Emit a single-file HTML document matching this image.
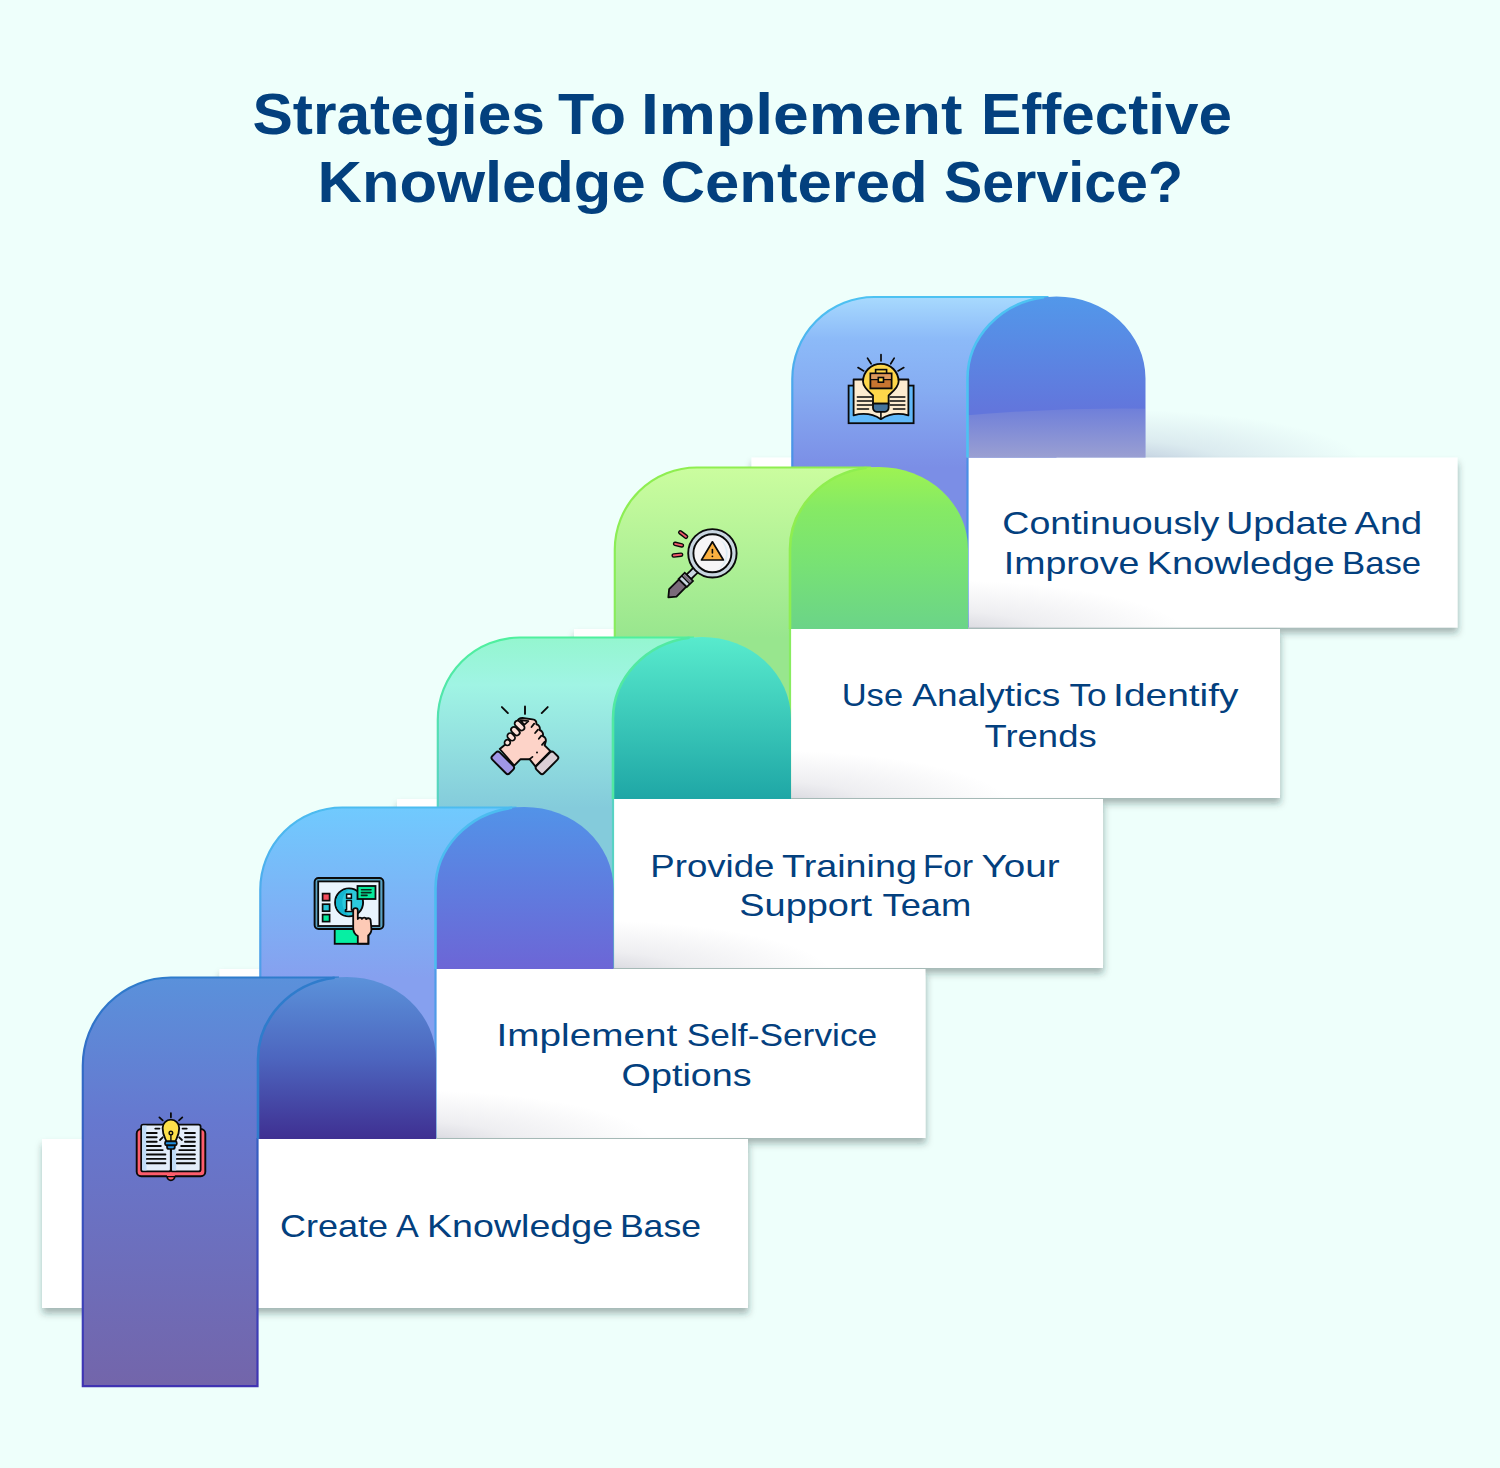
<!DOCTYPE html>
<html><head><meta charset="utf-8"><style>
html,body{margin:0;padding:0;}
body{width:1500px;height:1468px;background:#eefffb;overflow:hidden;position:relative;font-family:"Liberation Sans",sans-serif;}
svg{position:absolute;left:0;top:0;}
.ct{font-family:"Liberation Sans",sans-serif;font-size:32px;fill:#03407e;}
.tt{font-family:"Liberation Sans",sans-serif;font-size:57px;font-weight:bold;fill:#03407e;}
</style></head><body>
<svg width="1500" height="1468" viewBox="0 0 1500 1468">
<defs><linearGradient id="gc4" gradientUnits="userSpaceOnUse" x1="0" y1="296.5" x2="0" y2="467.5"><stop offset="0" stop-color="#a8dafe"/><stop offset="0.25" stop-color="#8cbaf8"/><stop offset="0.55" stop-color="#86acf2"/><stop offset="1" stop-color="#7b8ee6"/></linearGradient><linearGradient id="ga4" gradientUnits="userSpaceOnUse" x1="0" y1="296.5" x2="0" y2="457.5"><stop offset="0" stop-color="#5298ea"/><stop offset="0.7" stop-color="#6276dc"/><stop offset="1" stop-color="#6276dc"/></linearGradient><radialGradient id="sh4" gradientUnits="userSpaceOnUse" cx="1115.5" cy="465.5" r="1" gradientTransform="translate(1115.5,465.5) scale(250,56) translate(-1115.5,-465.5)"><stop offset="0" stop-color="#4a5096" stop-opacity="0.32"/><stop offset="0.45" stop-color="#4a5096" stop-opacity="0.115"/><stop offset="1" stop-color="#4a5096" stop-opacity="0"/></radialGradient><linearGradient id="bd4" gradientUnits="userSpaceOnUse" x1="0" y1="296.5" x2="0" y2="467.5"><stop offset="0" stop-color="#4dc2f2"/><stop offset="1" stop-color="#4a8ee6"/></linearGradient><linearGradient id="ov" gradientUnits="userSpaceOnUse" x1="0" y1="406.5" x2="0" y2="457.5"><stop offset="0" stop-color="#d2c8c8" stop-opacity="0.1"/><stop offset="1" stop-color="#d2c8c8" stop-opacity="0.5"/></linearGradient><linearGradient id="gc3" gradientUnits="userSpaceOnUse" x1="0" y1="467" x2="0" y2="638"><stop offset="0" stop-color="#cbfd9f"/><stop offset="1" stop-color="#98e68e"/></linearGradient><linearGradient id="ga3" gradientUnits="userSpaceOnUse" x1="0" y1="467" x2="0" y2="628"><stop offset="0" stop-color="#9ef352"/><stop offset="0.25" stop-color="#86ea64"/><stop offset="0.6" stop-color="#78e274"/><stop offset="1" stop-color="#6bd488"/></linearGradient><radialGradient id="sh3" gradientUnits="userSpaceOnUse" cx="938" cy="636" r="1" gradientTransform="translate(938,636) scale(250,56) translate(-938,-636)"><stop offset="0" stop-color="#50506e" stop-opacity="0.27"/><stop offset="0.45" stop-color="#50506e" stop-opacity="0.097"/><stop offset="1" stop-color="#50506e" stop-opacity="0"/></radialGradient><linearGradient id="bd3" gradientUnits="userSpaceOnUse" x1="0" y1="467" x2="0" y2="638"><stop offset="0" stop-color="#8fee50"/><stop offset="1" stop-color="#88ec60"/></linearGradient><linearGradient id="gc2" gradientUnits="userSpaceOnUse" x1="0" y1="637" x2="0" y2="808"><stop offset="0" stop-color="#94f6cf"/><stop offset="0.28" stop-color="#a0f4e4"/><stop offset="1" stop-color="#84cbdb"/></linearGradient><linearGradient id="ga2" gradientUnits="userSpaceOnUse" x1="0" y1="637" x2="0" y2="798"><stop offset="0" stop-color="#58ebcd"/><stop offset="1" stop-color="#1fa7a6"/></linearGradient><radialGradient id="sh2" gradientUnits="userSpaceOnUse" cx="761" cy="806" r="1" gradientTransform="translate(761,806) scale(250,56) translate(-761,-806)"><stop offset="0" stop-color="#50506e" stop-opacity="0.27"/><stop offset="0.45" stop-color="#50506e" stop-opacity="0.097"/><stop offset="1" stop-color="#50506e" stop-opacity="0"/></radialGradient><linearGradient id="bd2" gradientUnits="userSpaceOnUse" x1="0" y1="637" x2="0" y2="808"><stop offset="0" stop-color="#4ff09e"/><stop offset="1" stop-color="#58d2c4"/></linearGradient><linearGradient id="gc1" gradientUnits="userSpaceOnUse" x1="0" y1="807" x2="0" y2="978"><stop offset="0" stop-color="#70cafe"/><stop offset="1" stop-color="#86a0ef"/></linearGradient><linearGradient id="ga1" gradientUnits="userSpaceOnUse" x1="0" y1="807" x2="0" y2="968"><stop offset="0" stop-color="#5293e8"/><stop offset="1" stop-color="#6c66d6"/></linearGradient><radialGradient id="sh1" gradientUnits="userSpaceOnUse" cx="583.5" cy="976" r="1" gradientTransform="translate(583.5,976) scale(250,56) translate(-583.5,-976)"><stop offset="0" stop-color="#50506e" stop-opacity="0.27"/><stop offset="0.45" stop-color="#50506e" stop-opacity="0.097"/><stop offset="1" stop-color="#50506e" stop-opacity="0"/></radialGradient><linearGradient id="bd1" gradientUnits="userSpaceOnUse" x1="0" y1="807" x2="0" y2="978"><stop offset="0" stop-color="#4cbcf0"/><stop offset="1" stop-color="#4f9be8"/></linearGradient><linearGradient id="gc0" gradientUnits="userSpaceOnUse" x1="0" y1="977" x2="0" y2="1387"><stop offset="0" stop-color="#5a91db"/><stop offset="0.35" stop-color="#6678cf"/><stop offset="1" stop-color="#7365aa"/></linearGradient><linearGradient id="ga0" gradientUnits="userSpaceOnUse" x1="0" y1="977" x2="0" y2="1138"><stop offset="0" stop-color="#5b92da"/><stop offset="0.5" stop-color="#4d66bf"/><stop offset="1" stop-color="#3f3092"/></linearGradient><radialGradient id="sh0" gradientUnits="userSpaceOnUse" cx="406" cy="1146" r="1" gradientTransform="translate(406,1146) scale(250,56) translate(-406,-1146)"><stop offset="0" stop-color="#50506e" stop-opacity="0.27"/><stop offset="0.45" stop-color="#50506e" stop-opacity="0.097"/><stop offset="1" stop-color="#50506e" stop-opacity="0"/></radialGradient><linearGradient id="b0" gradientUnits="userSpaceOnUse" x1="0" y1="977" x2="0" y2="1387"><stop offset="0" stop-color="#2f7ccc"/><stop offset="1" stop-color="#4033b2"/></linearGradient><filter id="cs" x="-5%" y="-20%" width="110%" height="150%"><feDropShadow dx="0.5" dy="5.5" stdDeviation="3.5" flood-color="#1c302e" flood-opacity="0.36"/></filter></defs>
<text x="252.4" y="133.9" textLength="292.6" lengthAdjust="spacingAndGlyphs" class="tt">Strategies</text><text x="558" y="133.9" textLength="68" lengthAdjust="spacingAndGlyphs" class="tt">To</text><text x="641" y="133.9" textLength="321.4" lengthAdjust="spacingAndGlyphs" class="tt">Implement</text><text x="981" y="133.9" textLength="251" lengthAdjust="spacingAndGlyphs" class="tt">Effective</text><text x="317.6" y="201.9" textLength="328.0" lengthAdjust="spacingAndGlyphs" class="tt">Knowledge</text><text x="660.6" y="201.9" textLength="267.0" lengthAdjust="spacingAndGlyphs" class="tt">Centered</text><text x="944" y="201.9" textLength="239" lengthAdjust="spacingAndGlyphs" class="tt">Service?</text>
<rect x="751.5" y="457.5" width="706.0" height="170.0" fill="#fff" filter="url(#cs)"/>
<rect x="1145.5" y="387.5" width="260" height="70" fill="url(#sh4)"/>
<path d="M792.3,627.5 V379.0 A82,82 0 0 1 874.3,297.0 H1056.5 V457.5 H967.5 V627.5 Z" fill="url(#gc4)"/>
<path d="M967.5,627.5 V457.5 M792.3,627.5 V379.0 A82,82 0 0 1 874.3,297.0 H1048.5" fill="none" stroke="url(#bd4)" stroke-width="2.2"/>
<path d="M967.5,457.5 V378.5 A89,82 0 0 1 1056.5,296.5 A89,82 0 0 1 1145.5,378.5 V457.5 Z" fill="url(#ga4)"/>
<path d="M967.5,415.3 Q1057.5,407.5 1145.5,408.7 V457.5 H967.5 Z" fill="url(#ov)"/>
<path d="M967.5,457.5 V378.5 A89,82 0 0 1 1044.1,297.3" fill="none" stroke="#4dc2f2" stroke-width="2.6"/>
<g transform="translate(840,348)"><rect x="8.6" y="37.6" width="65" height="37.6" fill="#62b9fa" stroke="#0a0a0a" stroke-width="1.8"/><path d="M13.6,67.4 V31.5 H68.4 V67.4 C58,64.5 49,66 40.9,71.2 C33,66 24,64.5 13.6,67.4 Z" fill="#fdecd0" stroke="#0a0a0a" stroke-width="1.8" stroke-linejoin="round"/><path d="M40.9,62 V71" stroke="#0a0a0a" stroke-width="1.6"/><path d="M17.3,49 H32 M50,49 H64.9" stroke="#0a0a0a" stroke-width="1.4" stroke-linecap="round"/><path d="M17.3,53 H32 M50,53 H64.9" stroke="#0a0a0a" stroke-width="1.4" stroke-linecap="round"/><path d="M17.3,57 H32 M50,57 H64.9" stroke="#0a0a0a" stroke-width="1.4" stroke-linecap="round"/><path d="M17.3,61 H28.6 M53.4,61 H64.9" stroke="#0a0a0a" stroke-width="1.4" stroke-linecap="round"/><path d="M33,47.4 C29,44 23,39.5 23,33.6 A17.8,17.8 0 1 1 58.6,33.6 C58.6,39.5 52.5,44 48.6,47.4 V55.6 H33 Z" fill="#fdd64a" stroke="#0a0a0a" stroke-width="1.8" stroke-linejoin="round"/><path d="M33,55.6 H48.6 V60 A3.8,3.8 0 0 1 44.8,63.8 H36.8 A3.8,3.8 0 0 1 33,60 Z" fill="#44739c" stroke="#0a0a0a" stroke-width="1.8"/><rect x="35.6" y="21.6" width="11" height="4.5" fill="#fdd64a" stroke="#0a0a0a" stroke-width="1.6"/><rect x="30.4" y="25.4" width="21.2" height="15" fill="#c87530" stroke="#0a0a0a" stroke-width="1.8"/><rect x="31.3" y="26.3" width="19.4" height="5.2" fill="#dc985c"/><path d="M30.4,31.6 H51.6" stroke="#0a0a0a" stroke-width="1.2"/><rect x="38.3" y="29.5" width="5.2" height="4.7" fill="#fdd64a" stroke="#0a0a0a" stroke-width="1.6"/><path d="M41,6.5 V12.8 M27.5,10.1 L31.1,15.8 M54.2,10.1 L50.7,15.8 M18,19.6 L23.7,22.9 M63.8,19.6 L58,22.9" stroke="#0a0a0a" stroke-width="1.7" stroke-linecap="round"/></g>
<text x="1002.3" y="533.6" textLength="217.1" lengthAdjust="spacingAndGlyphs" class="ct">Continuously</text>
<text x="1226.0" y="533.6" textLength="122.2" lengthAdjust="spacingAndGlyphs" class="ct">Update</text>
<text x="1354.6" y="533.6" textLength="67.5" lengthAdjust="spacingAndGlyphs" class="ct">And</text>
<text x="1003.8" y="573.8" textLength="135.5" lengthAdjust="spacingAndGlyphs" class="ct">Improve</text>
<text x="1146.7" y="573.8" textLength="187.9" lengthAdjust="spacingAndGlyphs" class="ct">Knowledge</text>
<text x="1342.0" y="573.8" textLength="79.1" lengthAdjust="spacingAndGlyphs" class="ct">Base</text>
<rect x="574" y="629" width="706" height="169" fill="#fff" filter="url(#cs)"/>
<rect x="968" y="558" width="260" height="70" fill="url(#sh3)"/>
<path d="M614.8,798 V549.5 A82,82 0 0 1 696.8,467.5 H879 V628 H790 V798 Z" fill="url(#gc3)"/>
<path d="M790,798 V628 M614.8,798 V549.5 A82,82 0 0 1 696.8,467.5 H871" fill="none" stroke="url(#bd3)" stroke-width="2.2"/>
<path d="M790,629 V549 A89,82 0 0 1 879,467 A89,82 0 0 1 968,549 V629 Z" fill="url(#ga3)"/>
<path d="M790,629 V549 A89,82 0 0 1 866.6,467.8" fill="none" stroke="#8fee50" stroke-width="2.6"/>
<g transform="translate(662,522)"><path d="M18.3,10.4 L24,14.7" stroke="#0a0a0a" stroke-width="4.6" stroke-linecap="round"/><path d="M18.3,10.4 L24,14.7" stroke="#f25a6b" stroke-width="1.8" stroke-linecap="round"/><path d="M13.1,21.8 L19.9,23.4" stroke="#0a0a0a" stroke-width="4.6" stroke-linecap="round"/><path d="M13.1,21.8 L19.9,23.4" stroke="#f25a6b" stroke-width="1.8" stroke-linecap="round"/><path d="M11.7,33.5 L19.1,32.7" stroke="#0a0a0a" stroke-width="4.6" stroke-linecap="round"/><path d="M11.7,33.5 L19.1,32.7" stroke="#f25a6b" stroke-width="1.8" stroke-linecap="round"/><g transform="translate(50.4,31.3) rotate(135)"><path d="M20,-3.4 L28,-3.2 V-3.2 H33.5 V3.2 H28 L20,3.4 Z" fill="#c9d6e1" stroke="#0a0a0a" stroke-width="1.8" stroke-linejoin="round"/><path d="M42,-5.2 H56 L62.3,0 L56,5.2 H42 Z" fill="#7a6a7a" stroke="#0a0a0a" stroke-width="1.8" stroke-linejoin="round"/><rect x="33.3" y="-5.8" width="8.7" height="11.6" fill="#c9d6e1" stroke="#0a0a0a" stroke-width="1.8"/><rect x="34.5" y="-4.9" width="2.2" height="9.8" fill="#7a6a7a"/><path d="M37.6,-5.8 V5.8" stroke="#0a0a0a" stroke-width="1.5"/></g><circle cx="50.4" cy="31.3" r="24.2" fill="#c9d6e1" stroke="#0a0a0a" stroke-width="1.9"/><circle cx="50.4" cy="31.3" r="19" fill="#f6f5f7" stroke="#0a0a0a" stroke-width="1.9"/><path d="M58,17.5 A17,17 0 0 1 55,47.5 A19,19 0 0 0 58,17.5 Z" fill="#dcecf5"/><path d="M50.4,19.8 L61.4,38 H39.5 Z" fill="#fbb040" stroke="#0a0a0a" stroke-width="1.7" stroke-linejoin="round"/><path d="M50.4,27.5 V31" stroke="#0a0a0a" stroke-width="1.6" stroke-linecap="round"/><circle cx="50.4" cy="34.3" r="0.9" fill="#0a0a0a"/></g>
<text x="841.7" y="706.3" textLength="61.4" lengthAdjust="spacingAndGlyphs" class="ct">Use</text>
<text x="912.3" y="706.3" textLength="147.9" lengthAdjust="spacingAndGlyphs" class="ct">Analytics</text>
<text x="1069.4" y="706.3" textLength="37.2" lengthAdjust="spacingAndGlyphs" class="ct">To</text>
<text x="1113.1" y="706.3" textLength="125.4" lengthAdjust="spacingAndGlyphs" class="ct">Identify</text>
<text x="984.6" y="746.5" textLength="112.0" lengthAdjust="spacingAndGlyphs" class="ct">Trends</text>
<rect x="397" y="799" width="706" height="169" fill="#fff" filter="url(#cs)"/>
<rect x="791" y="728" width="260" height="70" fill="url(#sh2)"/>
<path d="M437.8,968 V719.5 A82,82 0 0 1 519.8,637.5 H702 V798 H613 V968 Z" fill="url(#gc2)"/>
<path d="M613,968 V798 M437.8,968 V719.5 A82,82 0 0 1 519.8,637.5 H694" fill="none" stroke="url(#bd2)" stroke-width="2.2"/>
<path d="M613,799 V719 A89,82 0 0 1 702,637 A89,82 0 0 1 791,719 V799 Z" fill="url(#ga2)"/>
<path d="M613,799 V719 A89,82 0 0 1 689.6,637.8" fill="none" stroke="#52e9a2" stroke-width="2.6"/>
<g transform="translate(485,700)"><path d="M16.9,7.1 L22.9,13.1 M40,6.5 V13.9 M62.7,7.1 L56.7,13.1" stroke="#0a0a0a" stroke-width="1.9" stroke-linecap="round"/><path d="M14.8,49 L21.8,43.2 L26.2,36.9 L30.4,31.2 L33.2,26.4 L32.4,21.4 C33.2,19 35,18 37.4,18 L47.6,19.4 C50.4,19.8 51.6,22 51.4,24.2 C54,24.8 55.4,27.4 54.6,30 C57.2,30.8 58.6,33.4 57.8,36 C60.2,37 61.4,39.6 60.6,42 L59.6,45.4 L65.4,51.2 L50.4,66.4 L44.6,59.2 H35.6 L29.2,65.6 Z" fill="#fdd3c8" stroke="#0a0a0a" stroke-width="1.9" stroke-linejoin="round"/><path d="M49.2,23.6 L46.5,27 M53,29.6 L50.1,33 M56.4,35.6 L53.8,38.8 M59.6,41.8 L57,44.8" stroke="#0a0a0a" stroke-width="1.8" stroke-linecap="round"/><circle cx="52" cy="52.4" r="1" fill="#0a0a0a"/><path d="M47.5,56.8 L44.6,59.2" stroke="#0a0a0a" stroke-width="1.7" stroke-linecap="round"/><path d="M35.6,20.2 L43.4,21.2 L39.2,24.8 Z" fill="#fde0d8" stroke="#0a0a0a" stroke-width="1.7" stroke-linejoin="round"/><g transform="translate(22.4,42.6) rotate(45)"><rect x="-2.8" y="-2.9" width="5.6" height="5.8" rx="2.9" fill="#fde0d8" stroke="#0a0a0a" stroke-width="1.8"/></g><g transform="translate(26.2,36.9) rotate(45)"><rect x="-4.2" y="-2.9" width="8.4" height="5.8" rx="2.9" fill="#fde0d8" stroke="#0a0a0a" stroke-width="1.8"/></g><g transform="translate(30.4,31.2) rotate(45)"><rect x="-4.9" y="-2.9" width="9.8" height="5.8" rx="2.9" fill="#fde0d8" stroke="#0a0a0a" stroke-width="1.8"/></g><g transform="translate(34.6,25.6) rotate(45)"><rect x="-5.8" y="-2.9" width="11.6" height="5.8" rx="2.9" fill="#fde0d8" stroke="#0a0a0a" stroke-width="1.8"/></g><g transform="translate(17.8,62.8) rotate(45)"><rect x="-12.2" y="-5.2" width="24.4" height="10.4" rx="2.6" fill="#a097e6" stroke="#0a0a0a" stroke-width="1.9"/></g><g transform="translate(62,62.8) rotate(-45)"><rect x="-12.2" y="-5.2" width="24.4" height="10.4" rx="2.6" fill="#dccfd5" stroke="#0a0a0a" stroke-width="1.9"/></g></g>
<text x="650.3" y="876.6" textLength="124.2" lengthAdjust="spacingAndGlyphs" class="ct">Provide</text>
<text x="782.1" y="876.6" textLength="134.8" lengthAdjust="spacingAndGlyphs" class="ct">Training</text>
<text x="923.0" y="876.6" textLength="50.0" lengthAdjust="spacingAndGlyphs" class="ct">For</text>
<text x="981.6" y="876.6" textLength="78.1" lengthAdjust="spacingAndGlyphs" class="ct">Your</text>
<text x="739.3" y="915.9" textLength="132.8" lengthAdjust="spacingAndGlyphs" class="ct">Support</text>
<text x="882.5" y="915.9" textLength="88.8" lengthAdjust="spacingAndGlyphs" class="ct">Team</text>
<rect x="219.5" y="969" width="706.0" height="169" fill="#fff" filter="url(#cs)"/>
<rect x="613.5" y="898" width="260" height="70" fill="url(#sh1)"/>
<path d="M260.3,1138 V889.5 A82,82 0 0 1 342.3,807.5 H524.5 V968 H435.5 V1138 Z" fill="url(#gc1)"/>
<path d="M435.5,1138 V968 M260.3,1138 V889.5 A82,82 0 0 1 342.3,807.5 H516.5" fill="none" stroke="url(#bd1)" stroke-width="2.2"/>
<path d="M435.5,969 V889 A89,82 0 0 1 524.5,807 A89,82 0 0 1 613.5,889 V969 Z" fill="url(#ga1)"/>
<path d="M435.5,969 V889 A89,82 0 0 1 512.1,807.8" fill="none" stroke="#4cbcf0" stroke-width="2.6"/>
<g transform="translate(308,870)"><rect x="26.7" y="56" width="33.8" height="17.8" fill="#06efa3" stroke="#0a0a0a" stroke-width="1.8"/><rect x="6.6" y="8" width="68.8" height="51" rx="4" fill="#5aa3c4" stroke="#0a0a0a" stroke-width="1.9"/><rect x="10.2" y="11.4" width="61.2" height="44.6" fill="#e9f4fd" stroke="#0a0a0a" stroke-width="1.8"/><rect x="14.6" y="23.6" width="7" height="7" fill="#f24c5c" stroke="#0a0a0a" stroke-width="1.7"/><rect x="14.6" y="34.2" width="7" height="7" fill="#29c5d8" stroke="#0a0a0a" stroke-width="1.7"/><rect x="14.6" y="44.6" width="7" height="7" fill="#06e89a" stroke="#0a0a0a" stroke-width="1.7"/><circle cx="41.1" cy="32.4" r="14" fill="#2ccadd" stroke="#0a0a0a" stroke-width="1.9"/><path d="M41.1,19.3 A13.1,13.1 0 0 0 41.1,45.5 A16,16 0 0 1 41.1,19.3 Z" fill="#14b6d0"/><rect x="38.6" y="24.2" width="4.8" height="4" fill="#fff" stroke="#0a0a0a" stroke-width="1.5"/><path d="M38.6,30.6 H43.4 V39.8 H44.4 V41.6 H37.4 V39.8 H38.6 Z" fill="#fff" stroke="#0a0a0a" stroke-width="1.5" stroke-linejoin="round"/><rect x="49.5" y="16" width="18" height="13" fill="#06e89a" stroke="#0a0a0a" stroke-width="1.8"/><path d="M53.5,19.8 H63 M53.5,22.6 H63 M53.5,25.4 H59" stroke="#0a2a1c" stroke-width="1.6" stroke-linecap="round"/><path d="M45.2,40.5 A2.3,2.3 0 0 1 49.8,40.5 V49 C50.5,47.2 53.5,47.2 54,49 C54.8,47.2 57.8,47.2 58.2,49.2 C59,47.8 62.2,47.8 62.6,50 L63.4,59 C63.6,62 62.2,64 60.2,65.4 V73.6 H49.8 V66 C47,64.5 45.2,62 45.2,58 Z" fill="#fdcab6" stroke="#0a0a0a" stroke-width="1.8" stroke-linejoin="round"/></g>
<text x="496.6" y="1046.3" textLength="180.6" lengthAdjust="spacingAndGlyphs" class="ct">Implement</text>
<text x="686.8" y="1046.3" textLength="190.4" lengthAdjust="spacingAndGlyphs" class="ct">Self-Service</text>
<text x="621.6" y="1086.1" textLength="130.0" lengthAdjust="spacingAndGlyphs" class="ct">Options</text>
<rect x="42" y="1139" width="706" height="169" fill="#fff" filter="url(#cs)"/>
<rect x="436" y="1068" width="260" height="70" fill="url(#sh0)"/>
<path d="M82.8,1386.2 V1065.5 A88,88 0 0 1 170.8,977.5 H347 V1138 H258 V1386.2 Z" fill="url(#gc0)"/>
<path d="M257.5,1138 V1386.2 H82.8 V1065.5 A88,88 0 0 1 170.8,977.5 H339" fill="none" stroke="url(#b0)" stroke-width="2.2"/>
<path d="M258,1139 V1059 A89,82 0 0 1 347,977 A89,82 0 0 1 436,1059 V1139 Z" fill="url(#ga0)"/>
<path d="M258,1139 V1059 A89,82 0 0 1 334.6,977.8" fill="none" stroke="#2f7ccc" stroke-width="2.6"/>
<g transform="translate(130,1106)"><circle cx="40.9" cy="70.5" r="3.8" fill="#fe5e6d" stroke="#0a0a0a" stroke-width="1.8"/><rect x="6.7" y="23" width="68.6" height="47.2" rx="4.5" fill="#fe5e6d" stroke="#0a0a0a" stroke-width="1.9"/><rect x="37" y="68" width="7.8" height="2" fill="#fe5e6d"/><rect x="11.2" y="18.6" width="29.6" height="46.8" rx="2" fill="#e3edfa" stroke="#0a0a0a" stroke-width="1.8"/><rect x="41" y="18.6" width="29.6" height="46.8" rx="2" fill="#e3edfa" stroke="#0a0a0a" stroke-width="1.8"/><rect x="12.3" y="19.6" width="4.2" height="44.8" fill="#c0dcf8"/><rect x="42" y="19.6" width="4.2" height="44.8" fill="#c0dcf8"/><path d="M16.9,27 H26.7 M55,27 H64.9 M16.9,31.3 H26.7 M55,31.3 H64.9 M16.9,35.7 H26.7 M55,35.7 H64.9 M16.9,40 H30.8 M51.2,40 H64.9 M16.9,44.1 H32.7 M49.3,44.1 H64.9 M16.9,48.5 H35.4 M46.9,48.5 H64.9 M16.9,52.9 H35.4 M46.9,52.9 H64.9 M16.9,57.2 H35.4 M46.9,57.2 H64.9 M25.3,22.6 H29.4 M52.6,22.6 H56.7" stroke="#0a0a0a" stroke-width="1.9" stroke-linecap="round"/><path d="M40.9,43 V65.4" stroke="#0a0a0a" stroke-width="1.8"/><path d="M36.4,35.4 C35.4,32.6 32.6,29.5 32.6,22 A8.3,8.3 0 1 1 49.2,22 C49.2,29.5 46.4,32.6 45.4,35.4 Z" fill="#fde04a" stroke="#0a0a0a" stroke-width="1.8" stroke-linejoin="round"/><rect x="35" y="35.4" width="11.8" height="3.9" rx="1.5" fill="#1e8fe0" stroke="#0a0a0a" stroke-width="1.7"/><path d="M37,39.3 H44.8 V41 A2,2 0 0 1 42.8,43 H39 A2,2 0 0 1 37,41 Z" fill="#1e8fe0" stroke="#0a0a0a" stroke-width="1.7"/><circle cx="40.9" cy="27" r="1.8" fill="#fde04a" stroke="#0a0a0a" stroke-width="1.4"/><path d="M40.9,28.8 V35.4" stroke="#0a0a0a" stroke-width="1.4"/><path d="M40.9,7.1 V11.2 M29.4,11.4 L32.7,14.4 M52.3,11.4 L49,14.4 M30,34 L32.7,31.3 M52,34 L49.2,31.3" stroke="#0a0a0a" stroke-width="1.8" stroke-linecap="round"/></g>
<text x="280.0" y="1236.5" textLength="108.1" lengthAdjust="spacingAndGlyphs" class="ct">Create</text>
<text x="396.1" y="1236.5" textLength="22.8" lengthAdjust="spacingAndGlyphs" class="ct">A</text>
<text x="427.0" y="1236.5" textLength="186.1" lengthAdjust="spacingAndGlyphs" class="ct">Knowledge</text>
<text x="619.9" y="1236.5" textLength="81.1" lengthAdjust="spacingAndGlyphs" class="ct">Base</text>
</svg>
</body></html>
